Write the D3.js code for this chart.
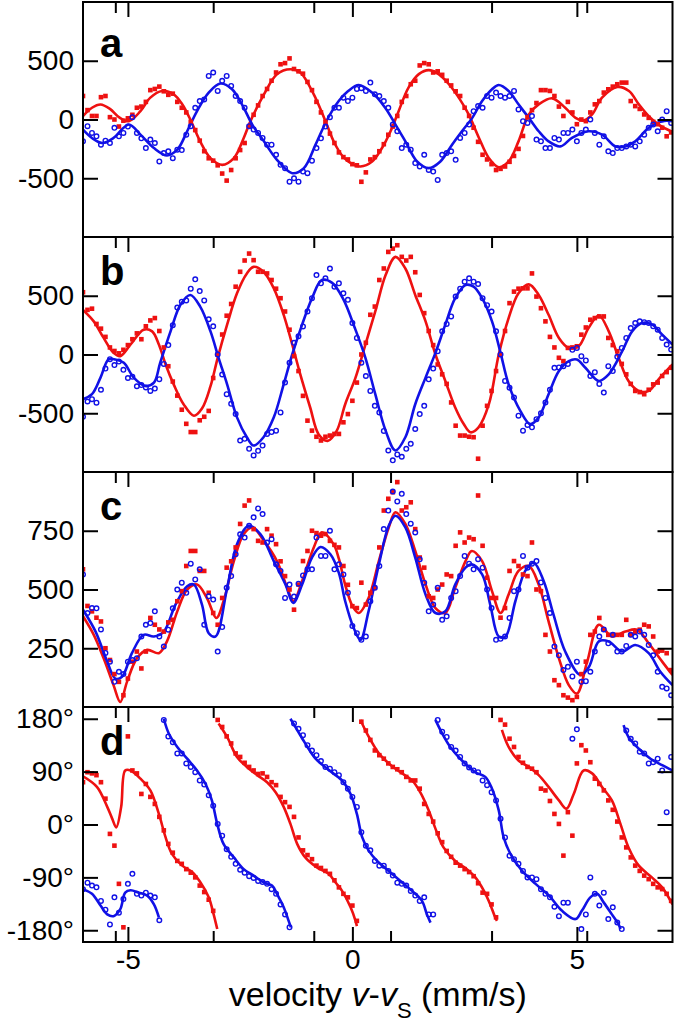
<!DOCTYPE html>
<html>
<head>
<meta charset="utf-8">
<script src="https://cdn.jsdelivr.net/npm/d3@7"></script>
<style>
  body { margin: 0; background: #fff; }
  svg  { display: block; }
  text { font-family: "Liberation Sans", Arial, Helvetica, sans-serif; fill: #000; }
</style>
</head>
<body>
<svg id="chart" width="675" height="1022"></svg>
<script>
// ── Data ──────────────────────────────────────────────────────────────────────
// measured points: one value per channel, channels from -6.0 to 7.1 mm/s, step 0.1
const V_START = -6.0, V_STEP = 0.1, N_CH = 132;

const aRedPts = [
  200, 80, 30, 30, 190, 200, 20, 0, -60, -10,
  10, 40, 100, 110, 150, 250, 260, 280, 240, 210,
  220, 150, 100, 60, -20, -90, -180, -270, -330, -350,
  -390, -460, -520, -430, -330, -260, -200, -60, 40, 120,
  200, 260, 330, 400, 470, 480, 520, 430, 410, 390,
  320, 250, 150, 60, -20, -120, -200, -280, -320, -340,
  -380, -390, -530, -450, -340, -320, -270, -210, -130, -60,
  30, 150, 200, 300, 330, 460, 480, 470, 400, 410,
  380, 330, 290, 240, 200, 100, 30, -70, -190, -300,
  -340, -380, -430, -420, -400, -360, -310, -250, -140, 20,
  80, 140, 250, 250, 243, 200, 110, 30, 150, 60,
  -40, 0, -14, 60, 129, 157, 229, 257, 280, 300,
  314, 314, 157, 114, 90, 43, 14, -20, -40, -70,
  -143, -110
];
const aBluePts = [
  -186, -57, -114, -143, -214, -180, -200, -71, -143, -114,
  -60, 20, -114, -160, -243, -171, -200, -357, -286, -271,
  -329, -257, -260, -129, -57, 100, 157, 171, 371, 400,
  243, 329, 371, 286, 200, 157, 100, -57, -86, -114,
  -157, -214, -214, -300, -386, -414, -529, -500, -529, -443,
  -457, -350, -243, -160, -60, 20, 100, 100, 186, 157,
  186, 260, 266, 243, 314, 214, 200, 157, 100, -43,
  -100, -243, -214, -257, -371, -400, -300, -429, -443, -514,
  -300, -286, -271, -343, -157, -114, -43, 71, 114, 100,
  200, 186, 229, 200, 186, 200, 243, 86, -14, -29,
  29, -171, -186, -243, -243, -157, -171, -114, -114, -86,
  -186, -114, -86, 0, -114, -214, -143, -271, -286, -243,
  -243, -229, -214, -229, -186, -129, -71, -43, -100, 0,
  71, -29
];
const bRedPts = [
  530, 380, 390, 260, 220, 150, 60, 30, 10, 40,
  80, 130, 180, 130, 240, 290, 310, 200, 60, -100,
  -230, -350, -470, -590, -660, -660, -560, -530, -480, -200,
  0, 170, 330, 430, 577, 704, 800, 859, 803, 704,
  704, 690, 634, 560, 479, 366, 211, -14, -141, -352,
  -563, -648, -700, -732, -700, -690, -676, -676, -577, -507,
  -394, -239, 0, 100, 338, 408, 634, 732, 873, 901,
  930, 831, 800, 831, 700, 507, 352, 200, 80, -85,
  -169, -250, -408, -606, -690, -690, -700, -704, -887, -606,
  -437, -310, -141, 0, 200, 437, 535, 560, 563, 563,
  690, 493, 394, 282, 150, 60, -28, -56, 56, 60,
  70, 169, 230, 296, 310, 324, 324, 141, 80, 28,
  -80, -169, -250, -310, -320, -338, -300, -254, -239, -183,
  -150, -113
];
const bBluePts = [
  -530, -400, -380, -410, -300, -120, -40, -90, -60, -130,
  -200, -190, -270, -260, -280, -310, -290, -210, -80, 80,
  250, 400, 450, 460, 560, 640, 540, 460, 300, 240,
  0, -170, -338, -420, -507, -732, -718, -803, -859, -820,
  -775, -676, -660, -648, -493, -239, -70, 99, 155, 239,
  366, 479, 676, 606, 648, 732, 577, 606, 521, 465,
  268, 141, -70, -183, -310, -437, -493, -650, -817, -901,
  -850, -870, -803, -760, -634, -507, -437, -211, -120, 28,
  197, 260, 324, 493, 560, 620, 648, 620, 600, 479,
  420, 366, 197, 0, -225, -282, -366, -521, -648, -600,
  -620, -550, -501, -408, -300, -113, -110, -99, -80, 40,
  56, -14, -50, -183, -150, -250, -324, -99, -141, -20,
  56, 141, 225, 268, 282, 275, 268, 240, 211, 141,
  85, 42
];
const cRedPts = [
  586, 430, 407, 380, 364, 250, 200, 140, 107, 50,
  121, 193, 236, 164, 236, 379, 350, 330, 321, 360,
  371, 450, 493, 600, 664, 664, 579, 579, 486, 400,
  350, 464, 593, 620, 679, 779, 857, 879, 757, 707,
  700, 757, 729, 693, 620, 557, 500, 414, 521, 621,
  664, 750, 740, 729, 736, 707, 690, 679, 600, 520,
  429, 421, 529, 436, 486, 507, 679, 836, 886, 914,
  957, 836, 850, 871, 757, 636, 593, 471, 464, 500,
  521, 564, 557, 686, 743, 700, 721, 714, 900, 686,
  550, 464, 464, 380, 421, 579, 621, 600, 564, 557,
  700, 500, 493, 307, 236, 114, 93, 50, 40, 29,
  43, 140, 193, 307, 321, 379, 329, 307, 307, 307,
  307, 371, 307, 320, 329, 350, 343, 300, 236, 240,
  229, 157
];
const cBluePts = [
  564, 400, 421, 420, 330, 230, 193, 107, 150, 140,
  193, 200, 207, 300, 350, 357, 407, 300, 257, 329,
  420, 500, 529, 486, 610, 543, 586, 350, 471, 457,
  236, 340, 507, 557, 650, 735, 721, 771, 807, 845,
  821, 700, 714, 607, 579, 464, 521, 470, 525, 560,
  586, 586, 721, 643, 643, 750, 586, 607, 564, 486,
  345, 314, 286, 300, 450, 507, 600, 757, 836, 917,
  875, 907, 821, 780, 743, 629, 529, 407, 436, 507,
  371, 386, 464, 493, 557, 643, 610, 586, 629, 593,
  500, 421, 286, 290, 300, 379, 493, 500, 643, 593,
  610, 621, 530, 464, 400, 257, 220, 157, 171, 130,
  193, 107, 110, 150, 236, 300, 330, 271, 307, 236,
  236, 260, 307, 300, 321, 307, 264, 220, 150, 86,
  79, 50
];
const dRedPts = [
  72, 89, 87, 84, 72, 44, -16, -36, -101, -175,
  150, 92, 87, 52, 69, 47, 35, 13, -10, -33,
  -48, -62, -67, -76, -82, -90, -104, -115, -128, -147,
  178, 166, 150, 138, 121, 115, 105, 98, 92, 86,
  87, 81, 72, 67, 47, 38, 30, 13, -22, -44,
  -52, -59, -70, -74, -79, -84, -95, -107, -118, -124,
  -138, -164, 175, 160, 144, 126, 118, 112, 104, 98,
  94, 89, 81, 75, 75, 61, 35, 18, 5, -15,
  -30, -45, -55, -65, -70, -76, -81, -88, -100, -116,
  -118, -136, -158, 178, 170, 146, 132, 115, 105, 98,
  95, 89, 61, 58, 40, 18, 1, -53, 21, -19,
  104, 135, 126, 106, 78, 69, 58, 41, 25, 5,
  -22, -39, -56, -70, -79, -87, -93, -101, -107, -110,
  -118, -130
];
const dBluePts = [
  -110, -99, -104, -107, -130, -145, -170, -124, -150, -127,
  -101, -84, -118, -121, -116, -121, -124, -163, 178, 150,
  140, 121, 121, 104, 98, 89, 75, 68, 50, 32,
  1, -19, -42, -55, -67, -77, -82, -88, -91, -96,
  -98, -101, -110, -118, -136, -153, -175, 172, 163, 152,
  135, 126, 118, 108, 98, 95, 89, 84, 72, 61,
  47, 30, -13, -36, -44, -62, -70, -70, -79, -87,
  -99, -101, -104, -113, -121, -130, -124, -153, -153, 178,
  158, 149, 132, 126, 115, 104, 97, 92, 89, 75,
  67, 55, 41, 10, -22, -53, -59, -67, -79, -90,
  -90, -93, -110, -118, -124, -140, -156, -133, -133, 146,
  162, -178, -153, -90, -118, -138, -116, -161, -141, -167,
  -178, 160, 146, 138, 124, 121, 104, 106, 112, 92,
  21, 115
];

// fitted curves: [velocity, value]
const aRedFit = [[-6.0,29],[-5.8,100],[-5.61,128],[-5.4,90],[-5.2,20],[-4.98,-14],[-4.72,71],[-4.5,186],[-4.24,243],[-3.98,214],[-3.79,129],[-3.61,0],[-3.39,-186],[-3.16,-329],[-2.9,-386],[-2.64,-329],[-2.42,-157],[-2.27,-14],[-1.97,214],[-1.68,386],[-1.38,428],[-1.16,400],[-0.86,214],[-0.6,-14],[-0.4,-200],[-0.2,-320],[0.0,-380],[0.18,-400],[0.44,-357],[0.66,-243],[0.85,-100],[1.03,71],[1.25,271],[1.48,386],[1.7,420],[1.92,386],[2.15,300],[2.37,186],[2.59,43],[2.82,-157],[3.04,-329],[3.26,-406],[3.48,-357],[3.7,-186],[3.93,43],[4.15,129],[4.45,180],[4.74,100],[4.97,14],[5.15,-9],[5.34,43],[5.56,186],[5.9,277],[6.16,243],[6.38,129],[6.6,29],[6.82,-43],[7.13,-106]];
const aBlueFit = [[-6.0,-86],[-5.8,-157],[-5.58,-200],[-5.32,-157],[-4.98,-43],[-4.72,-129],[-4.42,-243],[-4.13,-306],[-3.9,-257],[-3.68,-100],[-3.46,71],[-3.2,229],[-2.94,306],[-2.68,257],[-2.46,129],[-2.23,-43],[-1.97,-186],[-1.68,-343],[-1.34,-457],[-1.08,-414],[-0.82,-214],[-0.56,0],[-0.3,160],[-0.1,240],[0.14,294],[0.44,229],[0.73,100],[0.96,-43],[1.18,-186],[1.44,-357],[1.7,-414],[1.96,-357],[2.22,-214],[2.44,-100],[2.67,14],[2.89,157],[3.11,257],[3.26,294],[3.48,243],[3.7,129],[3.93,14],[4.15,-100],[4.37,-186],[4.63,-229],[4.89,-157],[5.26,-100],[5.56,-129],[5.86,-229],[6.08,-229],[6.3,-186],[6.6,-71],[6.9,-14],[7.13,-14]];
const bRedFit = [[-6.0,380],[-5.76,282],[-5.54,141],[-5.32,14],[-5.17,-14],[-4.94,85],[-4.65,211],[-4.46,197],[-4.31,85],[-4.16,-85],[-3.98,-254],[-3.76,-423],[-3.53,-521],[-3.35,-460],[-3.16,-270],[-3.0,-28],[-2.79,254],[-2.57,521],[-2.35,690],[-2.2,746],[-1.98,704],[-1.75,563],[-1.53,338],[-1.34,85],[-1.16,-169],[-0.94,-451],[-0.75,-680],[-0.55,-735],[-0.35,-650],[-0.16,-423],[0.07,-197],[0.29,85],[0.51,366],[0.74,676],[0.96,831],[1.18,732],[1.4,507],[1.63,282],[1.85,0],[2.07,-225],[2.29,-451],[2.48,-592],[2.63,-662],[2.81,-620],[3.04,-423],[3.26,0],[3.48,310],[3.7,521],[3.93,597],[4.15,507],[4.37,338],[4.6,141],[4.82,56],[5.04,70],[5.26,225],[5.49,332],[5.71,197],[5.93,-28],[6.15,-225],[6.38,-310],[6.6,-310],[6.82,-211],[7.13,-85]];
const bBlueFit = [[-6.0,-380],[-5.8,-338],[-5.61,-197],[-5.43,-42],[-5.28,-42],[-5.09,-70],[-4.87,-197],[-4.61,-268],[-4.42,-240],[-4.28,-70],[-4.05,197],[-3.83,423],[-3.61,507],[-3.39,408],[-3.16,197],[-2.98,-28],[-2.79,-254],[-2.57,-535],[-2.35,-704],[-2.2,-775],[-1.98,-704],[-1.75,-535],[-1.53,-254],[-1.34,0],[-1.12,254],[-0.9,479],[-0.68,634],[-0.45,610],[-0.2,470],[0.05,230],[0.29,-28],[0.51,-338],[0.74,-648],[0.96,-817],[1.18,-704],[1.4,-423],[1.63,-197],[1.85,14],[2.07,254],[2.29,479],[2.52,592],[2.7,577],[2.89,479],[3.11,282],[3.3,14],[3.48,-254],[3.74,-479],[3.96,-592],[4.15,-535],[4.37,-338],[4.6,-141],[4.82,-56],[5.0,-42],[5.19,-113],[5.49,-225],[5.71,-169],[6.01,28],[6.23,197],[6.45,268],[6.68,254],[6.9,169],[7.13,85]];
const cRedFit = [[-6.0,386],[-5.76,307],[-5.54,207],[-5.32,93],[-5.17,21],[-5.02,107],[-4.8,207],[-4.57,243],[-4.31,229],[-4.13,279],[-3.9,407],[-3.68,500],[-3.46,521],[-3.24,464],[-3.03,379],[-2.87,450],[-2.64,621],[-2.42,736],[-2.23,764],[-1.97,707],[-1.68,621],[-1.45,507],[-1.31,450],[-1.12,536],[-0.86,679],[-0.68,743],[-0.42,693],[-0.3,630],[-0.16,520],[0.0,430],[0.14,400],[0.36,464],[0.59,621],[0.81,764],[0.96,829],[1.18,779],[1.4,664],[1.63,521],[1.85,421],[2.07,400],[2.29,507],[2.52,621],[2.66,664],[2.89,621],[3.11,493],[3.3,400],[3.48,479],[3.7,579],[3.93,600],[4.15,521],[4.37,364],[4.6,207],[4.82,93],[5.0,57],[5.23,193],[5.49,350],[5.78,300],[6.08,321],[6.34,329],[6.6,271],[6.9,193],[7.13,136]];
const cBlueFit = [[-6.0,414],[-5.72,321],[-5.46,193],[-5.28,121],[-5.13,129],[-4.91,229],[-4.65,307],[-4.42,300],[-4.2,321],[-3.94,436],[-3.68,514],[-3.53,521],[-3.35,436],[-3.2,314],[-3.05,300],[-2.79,507],[-2.57,693],[-2.31,771],[-2.05,736],[-1.75,621],[-1.49,521],[-1.32,443],[-1.12,521],[-0.9,636],[-0.71,681],[-0.49,650],[-0.3,570],[-0.16,450],[0.03,336],[0.18,286],[0.36,407],[0.59,607],[0.81,771],[0.96,814],[1.18,764],[1.4,636],[1.63,479],[1.85,400],[2.07,407],[2.29,521],[2.52,593],[2.66,607],[2.89,564],[3.07,436],[3.26,300],[3.41,300],[3.63,450],[3.85,579],[4.04,614],[4.26,536],[4.48,393],[4.74,236],[5.08,136],[5.27,171],[5.49,279],[5.71,279],[6.01,236],[6.3,264],[6.6,229],[6.86,150],[7.13,93]];

// phase curves come in pieces between the ±180° wraps
const dRedFit = [
  [[-6.0,82],[-5.69,64],[-5.46,30],[-5.35,10],[-5.26,-5],[-5.15,30],[-5.06,92],[-4.94,92],[-4.72,78],[-4.5,58],[-4.31,18],[-4.16,-22],[-4.02,-50],[-3.79,-70],[-3.57,-81],[-3.39,-98],[-3.2,-124],[-3.09,-153],[-3.01,-178]],
  [[-2.98,172],[-2.79,149],[-2.57,115],[-2.35,98],[-2.12,84],[-1.9,72],[-1.71,55],[-1.53,30],[-1.38,1],[-1.23,-33],[-1.05,-56],[-0.79,-73],[-0.53,-84],[-0.36,-100],[-0.23,-113],[-0.04,-141],[0.07,-164],[0.1,-173]],
  [[0.18,178],[0.36,150],[0.59,121],[0.81,104],[1.07,89],[1.33,75],[1.51,55],[1.7,24],[1.85,-7],[2.03,-39],[2.29,-62],[2.55,-76],[2.74,-90],[2.93,-113],[3.07,-136],[3.18,-158],[3.22,-164]],
  [[3.33,161],[3.48,132],[3.7,109],[3.93,98],[4.15,84],[4.37,64],[4.6,41],[4.77,27],[4.93,52],[5.15,92],[5.34,87],[5.56,64],[5.78,41],[5.97,1],[6.15,-39],[6.38,-70],[6.67,-90],[6.9,-107],[7.13,-136]]
];
const dBlueFit = [
  [[-6.0,-110],[-5.8,-118],[-5.61,-138],[-5.46,-153],[-5.32,-156],[-5.17,-144],[-5.06,-116],[-4.94,-112],[-4.76,-116],[-4.57,-121],[-4.42,-136],[-4.31,-158]],
  [[-4.2,180],[-4.09,155],[-3.9,132],[-3.68,112],[-3.46,92],[-3.27,69],[-3.13,41],[-3.01,1],[-2.87,-33],[-2.64,-56],[-2.42,-76],[-2.2,-87],[-1.97,-99],[-1.79,-104],[-1.68,-118],[-1.53,-141],[-1.42,-164],[-1.37,-175]],
  [[-1.38,180],[-1.23,161],[-1.05,138],[-0.82,112],[-0.56,95],[-0.34,82],[-0.23,75],[-0.04,52],[0.1,18],[0.22,-22],[0.36,-44],[0.55,-62],[0.81,-79],[1.07,-96],[1.33,-113],[1.55,-130],[1.66,-153],[1.74,-167]],
  [[1.85,178],[2.0,155],[2.18,132],[2.44,109],[2.74,89],[2.96,81],[3.11,61],[3.26,24],[3.37,-22],[3.52,-50],[3.78,-79],[4.08,-101],[4.38,-121],[4.67,-147],[4.97,-161],[5.11,-147],[5.3,-124],[5.45,-118],[5.6,-133],[5.78,-153],[5.93,-170],[5.97,-178]],
  [[6.04,169],[6.15,149],[6.38,129],[6.64,112],[6.9,101],[7.13,92]]
];

// axes
const X_DOMAIN    = [-6, 7.13];
const X_MAJOR     = [-5, 0, 5];
const X_LINES     = [-5.28, -3.1, -0.86, 0.85, 3.1, 5.22];   // extra marks on the frame
const AB_DOMAIN   = [-1000, 1000];
const AB_TICKS    = [-500, 0, 500];
const C_DOMAIN    = [0, 1000];
const C_TICKS     = [250, 500, 750];
const D_DOMAIN    = [-200, 200];
const D_TICKS     = [-180, -90, 0, 90, 180];


// ── Layout ────────────────────────────────────────────────────────────────────
const RED  = '#ee1111';
const BLUE = '#1111e6';
const LEFT = 83, RIGHT = 672.5;
const TOP0 = 2, PANEL_H = 235;
const TICK = 15, TICK_MINOR = 11;
const LABEL_SIZE = 28;

const svg = d3.select('#chart');
const x = d3.scaleLinear().domain(X_DOMAIN).range([LEFT, RIGHT]);

[aRedPts, aBluePts, bRedPts, bBluePts, cRedPts, cBluePts, dRedPts, dBluePts].forEach((a, i) => {
    if (a.length !== N_CH) throw new Error(`series ${i} has ${a.length} points`);
});
const channels = d3.range(N_CH).map(i => +(V_START + i * V_STEP).toFixed(2));

const panels = [
    { name: 'a', domain: AB_DOMAIN, ticks: AB_TICKS, red: aRedPts, blue: aBluePts, redFit: [aRedFit], blueFit: [aBlueFit], fmt: d => String(d), letterY: 55 },
    { name: 'b', domain: AB_DOMAIN, ticks: AB_TICKS, red: bRedPts, blue: bBluePts, redFit: [bRedFit], blueFit: [bBlueFit], fmt: d => String(d), letterY: 48 },
    { name: 'c', domain: C_DOMAIN,  ticks: C_TICKS,  red: cRedPts, blue: cBluePts, redFit: [cRedFit], blueFit: [cBlueFit], fmt: d => String(d), letterY: 48 },
    { name: 'd', domain: D_DOMAIN,  ticks: D_TICKS,  red: dRedPts, blue: dBluePts, redFit: dRedFit,   blueFit: dBlueFit,   fmt: d => d + '°', letterY: 48 },
];

const defs = svg.append('defs');

panels.forEach((p, i) => {
    const y0 = TOP0 + i * PANEL_H, y1 = y0 + PANEL_H;
    const y = d3.scaleLinear().domain(p.domain).range([y1, y0]);
    const g = svg.append('g').attr('class', `panel-${p.name}`);

    defs.append('clipPath').attr('id', `clip-${p.name}`)
        .append('rect')
        .attr('x', LEFT).attr('y', y0)
        .attr('width', RIGHT - LEFT).attr('height', PANEL_H);

    const plot = g.append('g').attr('clip-path', `url(#clip-${p.name})`);

    const line = d3.line()
        .x(d => x(d[0]))
        .y(d => y(d[1]))
        .curve(d3.curveCatmullRom.alpha(0.5));

    // fits
    plot.selectAll('path.fit-red')
        .data(p.redFit)
        .join('path')
        .attr('class', 'fit-red')
        .attr('d', line)
        .attr('fill', 'none')
        .attr('stroke', RED)
        .attr('stroke-width', 2.6);

    plot.selectAll('path.fit-blue')
        .data(p.blueFit)
        .join('path')
        .attr('class', 'fit-blue')
        .attr('d', line)
        .attr('fill', 'none')
        .attr('stroke', BLUE)
        .attr('stroke-width', 2.6);

    // measured points
    const SQ = 4.6;
    plot.selectAll('rect.pt-red')
        .data(p.red)
        .join('rect')
        .attr('class', 'pt-red')
        .attr('x', (d, k) => x(channels[k]) - SQ / 2)
        .attr('y', d => y(d) - SQ / 2)
        .attr('width', SQ).attr('height', SQ)
        .attr('fill', RED);

    plot.selectAll('circle.pt-blue')
        .data(p.blue)
        .join('circle')
        .attr('class', 'pt-blue')
        .attr('cx', (d, k) => x(channels[k]))
        .attr('cy', d => y(d))
        .attr('r', 2.3)
        .attr('fill', 'none')
        .attr('stroke', BLUE)
        .attr('stroke-width', 1.4);

    // y axes (ticks inside)
    const yl = g.append('g')
        .attr('transform', `translate(${LEFT},0)`)
        .call(d3.axisLeft(y).tickValues(p.ticks).tickSize(-TICK).tickPadding(9).tickFormat(p.fmt));
    const yr = g.append('g')
        .attr('transform', `translate(${RIGHT},0)`)
        .call(d3.axisRight(y).tickValues(p.ticks).tickSize(-TICK).tickFormat(''));

    // top axis marks
    const xt = g.append('g')
        .attr('transform', `translate(0,${y0})`)
        .call(d3.axisTop(x).tickValues(X_MAJOR).tickSize(-TICK).tickFormat(''));
    const xtm = g.append('g')
        .attr('transform', `translate(0,${y0})`)
        .call(d3.axisTop(x).tickValues(X_LINES).tickSize(-TICK_MINOR).tickFormat(''));

    const axes = [yl, yr, xt, xtm];

    if (i === panels.length - 1) {
        const xb = g.append('g')
            .attr('transform', `translate(0,${y1})`)
            .call(d3.axisBottom(x).tickValues(X_MAJOR).tickSize(-TICK).tickPadding(7).tickFormat(d => String(d)));
        const xbm = g.append('g')
            .attr('transform', `translate(0,${y1})`)
            .call(d3.axisBottom(x).tickValues(X_LINES).tickSize(-TICK_MINOR).tickFormat(''));
        axes.push(xb, xbm);
    }

    axes.forEach(a => {
        a.select('.domain').remove();
        a.selectAll('line').attr('stroke', '#000').attr('stroke-width', 2);
        a.selectAll('text')
            .attr('font-size', LABEL_SIZE)
            .attr('font-family', '"Liberation Sans", Arial, sans-serif')
            .attr('fill', '#000');
    });

    // frame
    g.append('rect')
        .attr('x', LEFT).attr('y', y0)
        .attr('width', RIGHT - LEFT).attr('height', PANEL_H)
        .attr('fill', 'none')
        .attr('stroke', '#000')
        .attr('stroke-width', 2);

    // panel letter
    g.append('text')
        .attr('x', 100)
        .attr('y', y0 + p.letterY)
        .attr('font-size', 40)
        .attr('font-weight', 700)
        .text(p.name);
});

// x title
const title = svg.append('text')
    .attr('x', (LEFT + RIGHT) / 2)
    .attr('y', 1006)
    .attr('text-anchor', 'middle')
    .attr('font-size', 34);
title.append('tspan').text('velocity ');
title.append('tspan').attr('font-style', 'italic').text('v');
title.append('tspan').text('-');
title.append('tspan').attr('font-style', 'italic').text('v');
title.append('tspan').attr('font-size', 22).attr('dy', 12).text('S');
title.append('tspan').attr('dy', -12).text(' (mm/s)');
</script>
</body>
</html>
